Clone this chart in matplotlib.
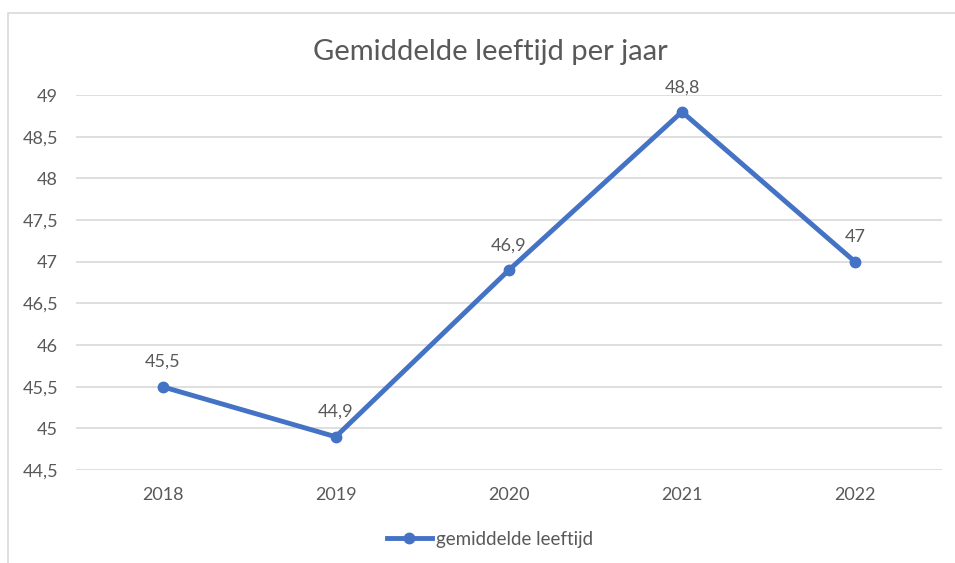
import matplotlib.pyplot as plt
from matplotlib.lines import Line2D

# Data
years = ['2018', '2019', '2020', '2021', '2022']
leeftijd = [45.5, 44.9, 46.9, 48.8, 47.0]
yticks = [44.5, 45, 45.5, 46, 46.5, 47, 47.5, 48, 48.5, 49]

blue = '#4472C4'
grey = '#595959'

plt.rcParams['font.family'] = ['Lato', 'DejaVu Sans']

fig = plt.figure(figsize=(9.55, 5.63), dpi=100)
ax = fig.add_axes([0.0796, 0.165, 0.9064, 0.666])

x = range(len(years))
ax.plot(x, leeftijd, color=blue, linewidth=3.5, marker='o', markersize=7.5,
        solid_capstyle='round', zorder=3)

def fmt(v):
    s = f'{v:g}'
    return s.replace('.', ',')

for i, v in enumerate(leeftijd):
    ax.annotate(fmt(v), (i, v), xytext=(0, 12), textcoords='offset points',
                ha='center', va='bottom', fontsize=13, color=grey)

ax.set_xlim(-0.5, len(years) - 0.5)
ax.set_ylim(44.5, 49)
ax.set_xticks(list(x))
ax.set_xticklabels(years)
ax.set_yticks(yticks)
ax.set_yticklabels([fmt(t) for t in yticks])
ax.tick_params(axis='both', length=0, labelsize=13, labelcolor=grey)
ax.tick_params(axis='x', pad=12)
ax.tick_params(axis='y', pad=13)
ax.grid(axis='y', color='#d9d9d9', linewidth=1.2)
for s in ax.spines.values():
    s.set_visible(False)
ax.set_axisbelow(True)

fig.text(0.513, 0.907, 'Gemiddelde leeftijd per jaar', ha='center', va='center',
         fontsize=21, color=grey)

handle = Line2D([], [], color=blue, linewidth=3.5, marker='o', markersize=7.5)
fig.legend([handle], ['gemiddelde leeftijd'], loc='center', bbox_to_anchor=(0.513, 0.042),
           frameon=False, fontsize=13.5, labelcolor=grey, handlelength=2.4,
           handletextpad=0.2)

# chart frame (left and top edges visible)
fig.add_artist(Line2D([8 / 955, 8 / 955, 1], [0, 1 - 13 / 563, 1 - 13 / 563],
                      transform=fig.transFigure, color='#d9d9d9', linewidth=1.2))

fig.savefig('out.png', dpi=100)
